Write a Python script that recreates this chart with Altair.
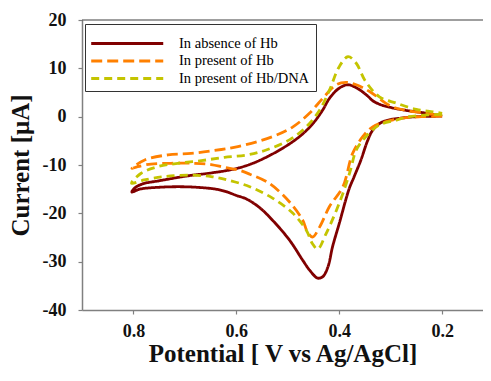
import altair as alt
import pandas as pd

series_names = ["In absence of Hb", "In present of Hb", "In present of Hb/DNA"]
series_colors = ["#800000", "#FF8000", "#C4C400"]
series_dash = [[1, 0], [11, 5], [8, 5]]

x_tick_values = [0.8, 0.6, 0.4, 0.2]
y_tick_values = [-40, -30, -20, -10, 0, 10, 20]

# In absence of Hb (closed loop, starting at 0.2 V on the lower branch)
abs_x = [0.20, 0.25, 0.28, 0.30, 0.32, 0.335, 0.345, 0.358, 0.371, 0.381, 0.400, 0.413,
         0.422, 0.432, 0.442, 0.458, 0.471, 0.497, 0.529, 0.555, 0.581, 0.600, 0.620,
         0.640, 0.665, 0.704, 0.749, 0.788, 0.803, 0.798, 0.782, 0.749, 0.698, 0.646,
         0.607, 0.568, 0.516, 0.477, 0.451, 0.432, 0.419, 0.400, 0.383, 0.364, 0.345,
         0.335, 0.320, 0.300, 0.270, 0.230, 0.20]
abs_y = [0.1, 0.0, -0.3, -0.6, -1.3, -2.8, -5.0, -9.0, -12.4, -15.0, -22.1, -26.9,
         -31.1, -33.1, -33.4, -31.7, -29.7, -25.5, -21.5, -18.8, -17.0, -16.3, -15.5,
         -15.0, -14.7, -14.5, -14.6, -15.0, -15.6, -14.8, -13.9, -13.25, -12.3, -11.6,
         -10.9, -9.65, -6.9, -4.1, -1.4, 1.4, 3.8, 5.9, 6.6, 5.8, 4.3,
         3.3, 2.5, 1.9, 1.3, 0.7, 0.1]

# In present of Hb
hb_x = [0.20, 0.24, 0.277, 0.309, 0.335, 0.354, 0.374, 0.393, 0.419, 0.438, 0.452,
        0.462, 0.471, 0.497, 0.536, 0.574, 0.597, 0.623, 0.649, 0.681, 0.727, 0.766,
        0.792, 0.803, 0.779, 0.733, 0.688, 0.643, 0.597, 0.529, 0.490, 0.458, 0.432,
        0.406, 0.387, 0.367, 0.341, 0.30, 0.27, 0.23, 0.20]
hb_y = [0.1, 0.0, -0.3, -1.0, -2.1, -4.1, -7.6, -14.5, -18.6, -22.8, -24.9,
        -23.8, -21.4, -17.6, -13.8, -11.9, -11.0, -10.5, -9.9, -9.65, -9.65, -9.8,
        -10.35, -10.7, -9.0, -7.9, -7.6, -7.0, -6.2, -4.1, -2.1, 0.7, 3.8,
        6.6, 7.1, 6.6, 5.2, 2.2, 1.3, 0.7, 0.1]

# In present of Hb/DNA
dna_x = [0.20, 0.264, 0.289, 0.322, 0.348, 0.367, 0.378, 0.390, 0.406, 0.426, 0.442,
         0.452, 0.464, 0.490, 0.529, 0.574, 0.617, 0.649, 0.688, 0.740, 0.779, 0.804,
         0.785, 0.753, 0.714, 0.668, 0.623, 0.578, 0.542, 0.497, 0.464, 0.438, 0.419,
         0.400, 0.383, 0.367, 0.350, 0.322, 0.289, 0.250, 0.218, 0.20]
dna_y = [0.5, 0.0, -0.7, -1.7, -4.1, -6.9, -11.0, -15.0, -19.5, -24.3, -27.4,
         -26.3, -23.5, -20.0, -16.9, -14.5, -13.1, -12.4, -12.1, -12.4, -13.1, -13.8,
         -11.7, -10.35, -9.65, -9.1, -8.4, -7.9, -6.9, -4.8, -2.1, 1.4, 5.5,
         10.35, 12.4, 11.05, 7.5, 4.1, 2.8, 1.5, 1.0, 0.7]

rows = []
for name, xs, ys in zip(series_names, [abs_x, hb_x, dna_x], [abs_y, hb_y, dna_y]):
    for i, (xv, yv) in enumerate(zip(xs, ys)):
        rows.append({"series": name, "idx": i, "potential": xv, "current": yv})
df = pd.DataFrame(rows)

font = "Liberation Serif"
PLOT_W = 401
PLOT_H = 290

legend_def = alt.Legend(title=" ", orient="none", legendX=3, legendY=4)

lines = alt.Chart(df).mark_line(strokeWidth=2.8, interpolate="catmull-rom").encode(
    x=alt.X("potential:Q",
            scale=alt.Scale(domain=[0.1206, 0.9], reverse=True, nice=False, zero=False),
            axis=alt.Axis(values=x_tick_values, format=".1f", labelPadding=8,
                          title="Potential [ V vs Ag/AgCl]")),
    y=alt.Y("current:Q",
            scale=alt.Scale(domain=[-40, 20], nice=False, zero=False),
            axis=alt.Axis(values=y_tick_values, labelExpr="'' + datum.value",
                          labelPadding=12, title="Current [μA]",
                          titleX=-54, titleBaseline="alphabetic")),
    color=alt.Color("series:N",
                    scale=alt.Scale(domain=series_names, range=series_colors),
                    legend=legend_def),
    strokeDash=alt.StrokeDash("series:N",
                              scale=alt.Scale(domain=series_names, range=series_dash),
                              legend=legend_def),
    order=alt.Order("idx:Q"),
)

top_frame = alt.Chart(pd.DataFrame({"frame": [0]})).mark_rule(
    color="#404040", strokeWidth=1.2
).encode(x=alt.value(0), x2=alt.value(PLOT_W), y=alt.value(0))

chart = alt.layer(lines, top_frame).properties(
    width=PLOT_W,
    height=PLOT_H,
    autosize=alt.AutoSizeParams(type="none"),
    padding={"left": 74, "top": 12, "right": 0, "bottom": 58},
).configure_view(
    stroke="transparent"
).configure_axis(
    grid=False,
    domainColor="#808080",
    domainWidth=1.5,
    tickColor="#808080",
    tickSize=4,
    tickWidth=1.2,
    labelFont=font,
    labelFontWeight="bold",
    labelFontSize=18,
    labelColor="#111111",
    titleFont=font,
    titleFontWeight="bold",
    titleFontSize=25,
    titleColor="#111111",
).configure_axisX(
    titlePadding=1,
).configure_axisY(
    titlePadding=4,
).configure_legend(
    strokeColor="#333333",
    fillColor="white",
    padding=6,
    titleFontSize=4,
    titlePadding=0,
    symbolType="M-1.2,0H8.1",
    symbolSize=240,
    symbolStrokeWidth=3,
    labelFont=font,
    labelFontSize=14.5,
    labelColor="#000000",
    labelOffset=69,
    rowPadding=1.5,
)

chart.save("out.html", embed_options={"renderer": "svg", "actions": False})
